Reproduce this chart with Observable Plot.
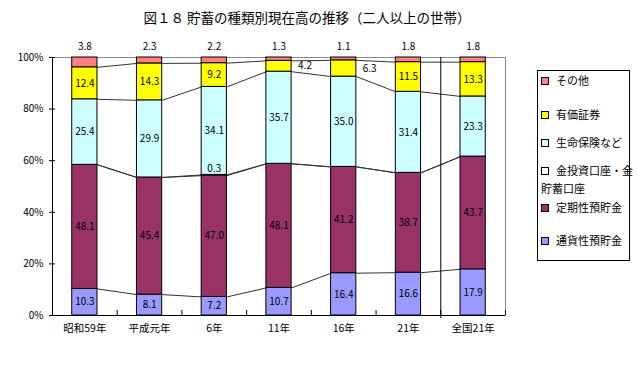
<!DOCTYPE html>
<html><head><meta charset="utf-8">
<script src="https://cdn.jsdelivr.net/npm/d3@7"></script>
<script src="https://cdn.jsdelivr.net/npm/@observablehq/plot@0.6"></script>
<style>
body{margin:0;background:#fff;}
#wrap{position:relative;width:639px;height:372px;font-family:"Noto Sans CJK JP",sans-serif;color:#000;}
#title{position:absolute;left:0;width:614px;top:7px;text-align:center;font-size:13.5px;line-height:20px;}
#chart{position:absolute;left:0;top:0;}
#legend{position:absolute;left:537px;top:70px;width:93px;height:191px;border:1px solid #000;box-sizing:border-box;font-size:11px;}
.item{position:absolute;left:3px;display:block;line-height:18px;white-space:pre;}
.sw{display:inline-block;width:6px;height:6px;border:1px solid #000;margin:0 7px 0 0;vertical-align:0px;}
</style></head>
<body><div id="wrap"><div id="title">図１８ 貯蓄の種類別現在高の推移（二人以上の世帯）</div><div id="chart"></div><div id="legend"></div></div>
<script>
const categories = ["昭和59年","平成元年","6年","11年","16年","21年","全国21年"];
const series = ["通貨性預貯金","定期性預貯金","金投資口座・金貯蓄口座","生命保険など","有価証券","その他"];
const legendLabels = ["通貨性預貯金","定期性預貯金","金投資口座・金\n貯蓄口座","生命保険など","有価証券","その他"];
const tsuuka = [10.3, 8.1, 7.2, 10.7, 16.4, 16.6, 17.9];
const teiki  = [48.1, 45.4, 47.0, 48.1, 41.2, 38.7, 43.7];
const kin    = [0, 0, 0.3, 0, 0, 0, 0];
const seimei = [25.4, 29.9, 34.1, 35.7, 35.0, 31.4, 23.3];
const yuka   = [12.4, 14.3, 9.2, 4.2, 6.3, 11.5, 13.3];
const sonota = [3.8, 2.3, 2.2, 1.3, 1.1, 1.8, 1.8];
const yTicks = [0, 20, 40, 60, 80, 100];
const colors = ["#9999FF","#993366","#FFFFFF","#CCFFFF","#FFFF00","#FF8080"];

const values = [tsuuka, teiki, kin, seimei, yuka, sonota];
const hw = 0.195; // half bar width in category units
const rows = [];
categories.forEach((c, i) => {
  let acc = 0;
  values.forEach((arr, k) => {
    const v = arr[i];
    rows.push({i, cat: c, k, series: series[k], v, y1: acc, y2: acc + v});
    acc += v;
  });
});
const segTop = (k, i) => rows.find(r => r.i === i && r.k === k).y2;
const links = [];
for (let k = 0; k < 5; k++) for (let i = 0; i < categories.length - 1; i++)
  links.push({x1: i + hw, x2: i + 1 - hw, y1: segTop(k, i), y2: segTop(k, i + 1)});

const idx = categories.map((c, i) => i);
const bounds = categories.map((c, i) => i - 0.5).concat([categories.length - 0.5]);
const fmt = d => d.v.toFixed(1);
const inner = rows.filter(r => r.v > 0 && r.k !== 2 && r.k !== 5 && !(r.k === 4 && r.v < 8));
const smallY = rows.filter(r => r.k === 4 && r.v < 8);
const goldL = rows.filter(r => r.k === 2 && r.v > 0);
const topL = rows.filter(r => r.k === 5);

const chart = Plot.plot({
  width: 639, height: 372,
  marginLeft: 52, marginRight: 134, marginTop: 57, marginBottom: 57,
  style: {fontFamily: "'Noto Sans CJK JP', sans-serif", fontSize: "10px", color: "#000", background: "transparent"},
  x: {type: "linear", domain: [-0.5, categories.length - 0.5]},
  y: {domain: [0, 100]},
  color: {domain: series, range: colors},
  marks: [
    Plot.frame({stroke: "#888"}),
    Plot.link(links, {x1: "x1", x2: "x2", y1: "y1", y2: "y2", stroke: "#333", strokeWidth: 1}),
    Plot.rectY(rows.filter(r => r.v > 0), {x1: d => d.i - hw, x2: d => d.i + hw, y1: "y1", y2: "y2", fill: "series", stroke: "#000", strokeWidth: 1}),
    Plot.ruleX([categories.length - 1.5], {y1: -1.2, y2: 100, stroke: "#000"}),
    Plot.ruleY([0], {stroke: "#000"}),
    Plot.ruleX([-0.5], {y1: 0, y2: 100, stroke: "#000"}),
    Plot.axisY(yTicks, {tickFormat: d => d + "%", tickSize: 3, tickPadding: 6, fontSize: 10, stroke: "#000"}),
    Plot.axisY(yTicks, {tickFormat: () => "", tickSize: -3, stroke: "#000"}),
    Plot.axisX(idx, {tickFormat: i => categories[i], tickSize: 0, tickPadding: 9, fontSize: 10.5}),
    Plot.axisX(bounds, {tickFormat: () => "", tickSize: -5, stroke: "#000"}),
    Plot.text(inner, {x: "i", y: d => (d.y1 + d.y2) / 2, text: fmt, fontSize: 10, fill: "#000"}),
    Plot.text(smallY, {x: "i", y: d => (d.y1 + d.y2) / 2, text: fmt, dx: 26, fontSize: 10, fill: "#000"}),
    Plot.text(goldL, {x: "i", y: "y2", text: fmt, dy: -6, fontSize: 10, fill: "#000"}),
    Plot.text(topL, {x: "i", y: 100, text: fmt, dy: -11, fontSize: 10, fill: "#000"})
  ]
});
document.getElementById("chart").appendChild(chart);

const legend = document.getElementById("legend");
const legendTops = [160, 127, 90, 62, 34, 0];
for (let k = series.length - 1; k >= 0; k--) {
  const it = document.createElement("div");
  it.className = "item";
  it.style.top = legendTops[k] + "px";
  it.innerHTML = `<span class="sw" style="background:${colors[k]}"></span><span></span>`;
  it.lastChild.textContent = legendLabels[k];
  legend.appendChild(it);
}
</script></body></html>
